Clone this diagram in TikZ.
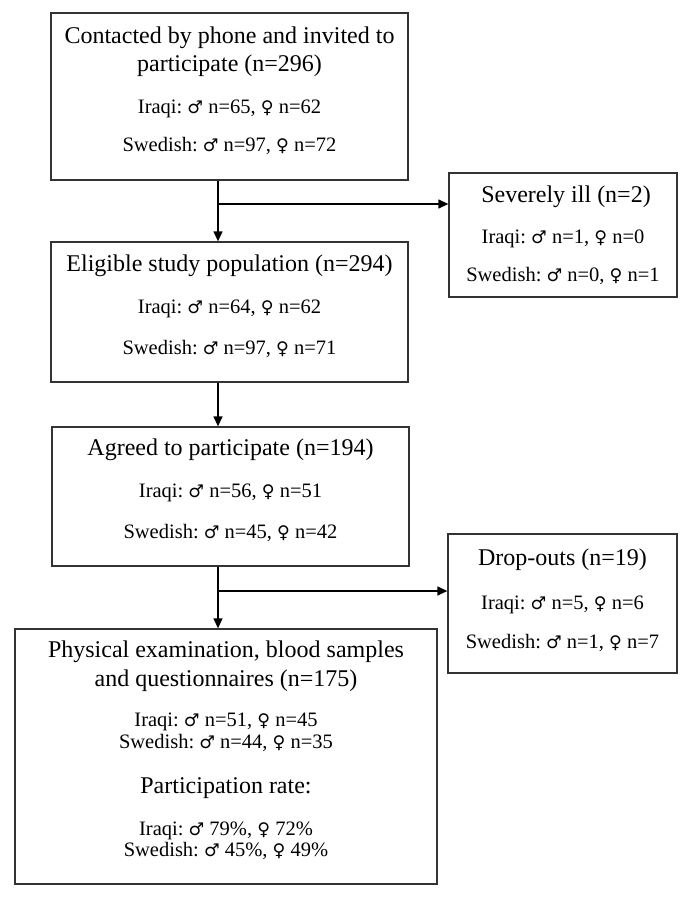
\documentclass[tikz,border=0pt]{standalone}
\usepackage{fontspec}
\setmainfont{Liberation Serif}
\newfontfamily\symfont{DejaVu Sans}
\usepackage{tikz}
\usetikzlibrary{arrows.meta}

\newcommand{\fixspaces}{\spaceskip=\fontdimen2\font\xspaceskip=\fontdimen2\font\relax}
\newcommand{\titlesize}{\fontsize{24}{28.5}\selectfont\fixspaces}
\newcommand{\subsize}{\fontsize{20.5}{21.5}\selectfont\fixspaces}
\newcommand{\male}{{\symfont\fontsize{17.5}{17.5}\selectfont ♂}}
\newcommand{\female}{{\symfont\fontsize{17.5}{17.5}\selectfont ♀}}
\newcommand{\bottompad}[1]{\par\kern#1}

\tikzset{
    box/.style={draw=black!80, line width=1.3pt, align=center, inner xsep=8pt, inner ysep=0pt},
    arr/.style={line width=1.3pt, -{Triangle[length=10pt,width=9pt]}}
}

\begin{document}
\begin{tikzpicture}[x=1pt, y=1pt]
    \useasboundingbox (0,0) rectangle (685,-898);

    \node[box, text width=341pt, minimum height=167pt] (contact) at (229.5,-96.5) {
        \titlesize Contacted by phone and invited to\\ participate (n=296)\par
        \subsize\vspace{20pt}
        Iraqi: \male{} n=65, \female{} n=62\\[16.5pt]
        Swedish: \male{} n=97, \female{} n=72\bottompad{12pt}
    };
    \node[box, text width=212pt, minimum height=124pt] (ill) at (563,-235) {
        \kern6pt\titlesize Severely ill (n=2)\par
        \subsize\vspace{19.5pt}
        Iraqi: \male{} n=1, \female{} n=0\\[18.5pt]
        Swedish: \male{} n=0, \female{} n=1
    };
    \node[box, text width=341pt, minimum height=140pt] (elig) at (229.5,-312) {
        \titlesize Eligible study population (n=294)\par
        \subsize\vspace{20pt}
        Iraqi: \male{} n=64, \female{} n=62\\[19.5pt]
        Swedish: \male{} n=97, \female{} n=71\bottompad{12pt}
    };
    \node[box, text width=341pt, minimum height=139pt] (agree) at (230.5,-496.5) {
        \titlesize Agreed to participate (n=194)\par
        \subsize\vspace{20pt}
        Iraqi: \male{} n=56, \female{} n=51\\[20pt]
        Swedish: \male{} n=45, \female{} n=42\bottompad{12pt}
    };
    \node[box, text width=213pt, minimum height=139pt] (drop) at (562.5,-603.5) {
        \titlesize Drop-outs (n=19)\par
        \subsize\vspace{22pt}
        Iraqi: \male{} n=5, \female{} n=6\\[18pt]
        Swedish: \male{} n=1, \female{} n=7\bottompad{6pt}
    };
    \node[box, text width=406pt, minimum height=255pt] (phys) at (226,-756.5) {
        \titlesize Physical examination, blood samples\\ and questionnaires (n=175)\par
        \subsize\vspace{19pt}
        Iraqi: \male{} n=51, \female{} n=45\\
        Swedish: \male{} n=44, \female{} n=35\par
        \titlesize\vspace{17pt}
        Participation rate:\par
        \subsize\vspace{20pt}
        Iraqi: \male{} 79\%, \female{} 72\%\\
        Swedish: \male{} 45\%, \female{} 49\%\bottompad{12pt}
    };

    \coordinate (spine) at (218,0);
    \coordinate (split1) at (218,-204);
    \coordinate (split2) at (218,-591);

    \draw[arr] (contact.south -| spine) -- (elig.north -| spine);
    \draw[arr] (split1) -- (split1 -| ill.west);
    \draw[arr] (elig.south -| spine) -- (agree.north -| spine);
    \draw[arr] (agree.south -| spine) -- (phys.north -| spine);
    \draw[arr] (split2) -- (split2 -| drop.west);
\end{tikzpicture}
\end{document}
